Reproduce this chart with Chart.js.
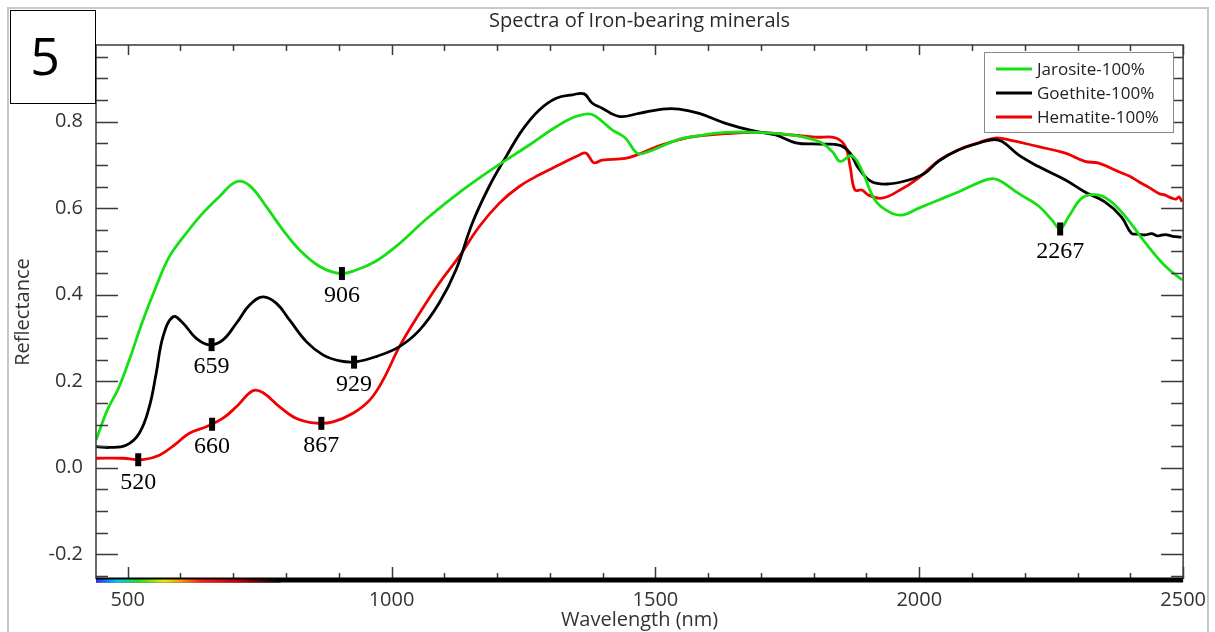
<!DOCTYPE html>
<html>
<head>
<meta charset="utf-8">
<title>Spectra of Iron-bearing minerals</title>
<script src="https://cdn.jsdelivr.net/npm/chart.js@4.4.1/dist/chart.umd.min.js"></script>
<style>
  html, body { margin: 0; padding: 0; background: #fff; }
  #wrap { position: relative; width: 1215px; height: 632px; }
</style>
</head>
<body>
<div id="wrap"><canvas id="spectra" width="1215" height="632"></canvas></div>
<script>
// --- spectra (wavelength in nm, reflectance) ---
const jarositeWl = [440, 462, 482, 503, 529, 554, 579, 611, 642, 674, 706, 731, 763, 794, 826, 864, 902, 933, 971, 1008, 1071, 1135, 1198, 1261, 1312, 1343, 1372, 1387, 1418, 1443, 1465, 1481, 1544, 1570, 1633, 1696, 1759, 1810, 1835, 1850, 1872, 1891, 1916, 1942, 1967, 1999, 2037, 2075, 2131, 2150, 2188, 2226, 2251, 2267, 2283, 2308, 2334, 2359, 2391, 2429, 2467, 2498];
const jarositeR = [0.064, 0.135, 0.182, 0.249, 0.341, 0.419, 0.488, 0.542, 0.588, 0.627, 0.661, 0.652, 0.603, 0.550, 0.503, 0.465, 0.449, 0.457, 0.478, 0.511, 0.580, 0.642, 0.696, 0.746, 0.788, 0.809, 0.818, 0.812, 0.781, 0.762, 0.727, 0.728, 0.759, 0.765, 0.775, 0.775, 0.769, 0.754, 0.731, 0.708, 0.721, 0.688, 0.619, 0.592, 0.584, 0.600, 0.619, 0.638, 0.667, 0.665, 0.634, 0.605, 0.573, 0.553, 0.580, 0.623, 0.631, 0.619, 0.580, 0.519, 0.465, 0.434];

const goethiteWl = [440, 465, 497, 522, 541, 554, 567, 586, 605, 630, 655, 680, 706, 731, 756, 782, 807, 839, 870, 902, 933, 971, 1015, 1053, 1090, 1122, 1153, 1185, 1217, 1248, 1280, 1312, 1343, 1365, 1380, 1399, 1431, 1469, 1513, 1545, 1583, 1633, 1684, 1728, 1766, 1810, 1850, 1869, 1885, 1910, 1942, 1980, 2011, 2037, 2075, 2112, 2138, 2157, 2188, 2226, 2277, 2313, 2351, 2383, 2402, 2415, 2428, 2440, 2452, 2466, 2480, 2497];
const goethiteR = [0.049, 0.047, 0.052, 0.080, 0.141, 0.218, 0.303, 0.349, 0.334, 0.299, 0.284, 0.295, 0.334, 0.376, 0.395, 0.380, 0.341, 0.291, 0.261, 0.247, 0.245, 0.257, 0.280, 0.318, 0.380, 0.457, 0.565, 0.650, 0.719, 0.781, 0.827, 0.854, 0.862, 0.864, 0.843, 0.831, 0.812, 0.819, 0.829, 0.829, 0.819, 0.796, 0.779, 0.769, 0.751, 0.748, 0.745, 0.727, 0.692, 0.661, 0.656, 0.665, 0.681, 0.709, 0.735, 0.750, 0.758, 0.754, 0.723, 0.696, 0.665, 0.638, 0.615, 0.580, 0.542, 0.540, 0.538, 0.541, 0.536, 0.539, 0.535, 0.533];

const hematiteWl = [440, 491, 529, 560, 592, 617, 649, 680, 706, 737, 756, 788, 820, 858, 889, 927, 959, 984, 1015, 1053, 1090, 1128, 1166, 1204, 1242, 1280, 1318, 1356, 1369, 1383, 1399, 1443, 1465, 1507, 1545, 1570, 1633, 1696, 1759, 1804, 1842, 1860, 1869, 1878, 1891, 1904, 1929, 1961, 1999, 2037, 2075, 2112, 2144, 2176, 2226, 2277, 2314, 2340, 2378, 2398, 2416, 2435, 2454, 2466, 2479, 2487, 2492, 2498];
const hematiteR = [0.022, 0.022, 0.019, 0.029, 0.056, 0.080, 0.095, 0.114, 0.141, 0.178, 0.174, 0.141, 0.114, 0.103, 0.106, 0.126, 0.157, 0.203, 0.280, 0.357, 0.426, 0.488, 0.557, 0.611, 0.650, 0.677, 0.700, 0.723, 0.727, 0.705, 0.711, 0.715, 0.723, 0.744, 0.758, 0.765, 0.772, 0.775, 0.769, 0.764, 0.762, 0.742, 0.696, 0.642, 0.642, 0.630, 0.623, 0.640, 0.670, 0.710, 0.735, 0.751, 0.762, 0.756, 0.742, 0.727, 0.708, 0.704, 0.684, 0.674, 0.661, 0.648, 0.634, 0.630, 0.623, 0.621, 0.626, 0.615];

const seriesNames = ['Jarosite-100%', 'Goethite-100%', 'Hematite-100%'];
const seriesColors = ['#14e014', '#000000', '#f00000'];

// absorption features marked on the curves
const bandWl = [520, 660, 867, 659, 929, 906, 2267];
const bandSeries = [2, 2, 2, 1, 1, 0, 0];

const xTicks = [500, 1000, 1500, 2000, 2500];
const yTicks = [-0.2, 0.0, 0.2, 0.4, 0.6, 0.8];

const wlArrays = [jarositeWl, goethiteWl, hematiteWl];
const rArrays = [jarositeR, goethiteR, hematiteR];

const sans = "'Open Sans', 'Liberation Sans', sans-serif";
const axisColor = '#3a3a3a';

function valueAt(i, w) {
  const xs = wlArrays[i], ys = rArrays[i];
  for (let k = 1; k < xs.length; k++) {
    if (w <= xs[k]) {
      const t = (w - xs[k - 1]) / (xs[k] - xs[k - 1]);
      return ys[k - 1] + t * (ys[k] - ys[k - 1]);
    }
  }
  return ys[ys.length - 1];
}

// frame, inward ticks, spectrum bar, legend, labels
const decor = {
  id: 'decor',
  beforeDraw(chart) {
    const ctx = chart.ctx;
    ctx.save();
    ctx.fillStyle = '#fff';
    ctx.fillRect(0, 0, chart.width, chart.height);
    ctx.strokeStyle = '#c8c8c8';
    ctx.lineWidth = 2;
    ctx.strokeRect(8, 8, 1200, 640);
    ctx.restore();
  },
  afterDraw(chart) {
    const ctx = chart.ctx;
    const { left, right, top, bottom } = chart.chartArea;
    const xs = chart.scales.x, ys = chart.scales.y;
    ctx.save();

    // plot box
    ctx.strokeStyle = axisColor;
    ctx.lineWidth = 1.5;
    ctx.beginPath();
    ctx.moveTo(left, bottom); ctx.lineTo(left, top); ctx.lineTo(right, top); ctx.lineTo(right, bottom);
    ctx.stroke();

    // ticks pointing into the plot
    ctx.beginPath();
    for (let w = 500; w <= 2500; w += 100) {
      const px = Math.round(xs.getPixelForValue(w)) + 0.5;
      const major = w % 500 === 0;
      ctx.moveTo(px, top); ctx.lineTo(px, top + (major ? 10 : 6));
      ctx.moveTo(px, bottom); ctx.lineTo(px, bottom - (major ? 12 : 6));
    }
    for (let k = -5; k <= 19; k++) {
      const py = Math.round(ys.getPixelForValue(k * 0.05)) + 0.5;
      const major = k % 4 === 0;
      ctx.moveTo(left, py); ctx.lineTo(left + (major ? 22 : 12), py);
      ctx.moveTo(right, py); ctx.lineTo(right - (major ? 22 : 12), py);
    }
    ctx.stroke();

    // wavelength axis line with the visible spectrum under it
    ctx.fillStyle = '#000';
    ctx.fillRect(left, bottom - 1.5, right - left, 5);
    const x0 = xs.getPixelForValue(440), x1 = xs.getPixelForValue(790);
    const grad = ctx.createLinearGradient(x0, 0, x1, 0);
    const stops = [[440, '#2a2aff'], [480, '#00c8ff'], [520, '#22e022'], [570, '#e8e800'], [600, '#ff9a00'], [640, '#ff1a1a'], [700, '#d00000'], [740, '#6a0000'], [790, '#000000']];
    stops.forEach(([w, c]) => grad.addColorStop((w - 440) / 350, c));
    ctx.fillStyle = grad;
    ctx.fillRect(x0, bottom + 0.5, x1 - x0, 3);

    // band markers and labels
    ctx.font = "24px 'Liberation Serif', serif";
    ctx.textAlign = 'center';
    ctx.textBaseline = 'middle';
    bandWl.forEach((w, i) => {
      const px = xs.getPixelForValue(w);
      const py = ys.getPixelForValue(valueAt(bandSeries[i], w));
      ctx.fillStyle = '#000';
      ctx.fillRect(px - 3, py - 6, 6, 13);
      ctx.fillText(String(w), px, py + 23);
    });

    // legend
    ctx.fillStyle = '#fff';
    ctx.fillRect(984, 52, 189, 80);
    ctx.strokeStyle = '#8a8a8a';
    ctx.lineWidth = 1;
    ctx.strokeRect(984.5, 52.5, 189, 80);
    ctx.font = '17px ' + sans;
    ctx.textAlign = 'left';
    seriesNames.forEach((name, i) => {
      const ly = 69 + i * 24;
      ctx.strokeStyle = seriesColors[i];
      ctx.lineWidth = 3;
      ctx.beginPath();
      ctx.moveTo(996, ly); ctx.lineTo(1032, ly);
      ctx.stroke();
      ctx.fillStyle = '#222';
      ctx.fillText(name, 1037, ly + 1);
    });

    // chart title
    ctx.font = '20px ' + sans;
    ctx.textAlign = 'center';
    ctx.fillStyle = '#2a2a2a';
    ctx.fillText('Spectra of Iron-bearing minerals', (left + right) / 2, 21);

    // panel number
    ctx.fillStyle = '#fff';
    ctx.fillRect(10, 10, 85, 93);
    ctx.strokeStyle = '#000';
    ctx.lineWidth = 1;
    ctx.strokeRect(10.5, 10.5, 85, 93);
    ctx.fillStyle = '#000';
    ctx.font = '52px ' + sans;
    ctx.fillText('5', 45, 60);

    ctx.restore();
  }
};

const ctx = document.getElementById('spectra').getContext('2d');
new Chart(ctx, {
  type: 'line',
  data: {
    datasets: seriesNames.map((name, i) => ({
      label: name,
      data: wlArrays[i].map((w, k) => ({ x: w, y: rArrays[i][k] })),
      borderColor: seriesColors[i],
      borderWidth: 2.8,
      pointRadius: 0,
      fill: false,
      tension: 0.4
    }))
  },
  options: {
    responsive: false,
    animation: false,
    devicePixelRatio: 1,
    layout: { padding: { left: 8, top: 45, right: 30, bottom: 0 } },
    plugins: {
      legend: { display: false },
      title: { display: false },
      tooltip: { enabled: false }
    },
    scales: {
      x: {
        type: 'linear',
        min: 440,
        max: 2500,
        afterBuildTicks: s => { s.ticks = xTicks.map(v => ({ value: v })); },
        afterFit: s => { s.height = 53; },
        grid: { display: false, drawTicks: false },
        border: { display: false },
        ticks: { font: { family: sans, size: 20 }, color: '#333', padding: 9, maxRotation: 0, autoSkip: false, callback: v => String(v) },
        title: { display: true, text: 'Wavelength (nm)', font: { family: sans, size: 20 }, color: '#333', padding: { top: 0, bottom: 0 } }
      },
      y: {
        min: -0.257,
        max: 0.977,
        afterBuildTicks: s => { s.ticks = yTicks.map(v => ({ value: v })); },
        afterFit: s => { s.width = 88; },
        grid: { display: false, drawTicks: false },
        border: { display: false },
        ticks: { font: { family: sans, size: 20 }, color: '#333', padding: 13, callback: v => v.toFixed(1) },
        title: { display: true, text: 'Reflectance', font: { family: sans, size: 20 }, color: '#333', padding: { top: 3, bottom: 0 } }
      }
    }
  },
  plugins: [decor]
});
</script>
</body>
</html>
